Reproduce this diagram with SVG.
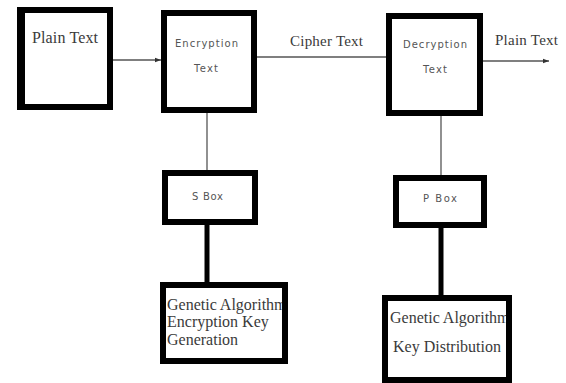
<svg xmlns="http://www.w3.org/2000/svg" width="566" height="383" viewBox="0 0 566 383">
  <style>
    .box { fill: none; stroke: #000; stroke-width: 6; }
    .thin { stroke: #555; stroke-width: 1.3; fill: none; }
    .thick { stroke: #000; stroke-width: 5; fill: none; }
    .serif { font-family: "Liberation Serif", "Times New Roman", serif; fill: #3a3a3a; }
    .small { font-family: "DejaVu Sans", Verdana, sans-serif; font-size: 10px; fill: #555; }
  </style>
  <defs>
    <marker id="arrow" viewBox="0 0 6 6" refX="6" refY="3" markerWidth="6" markerHeight="6" markerUnits="userSpaceOnUse" orient="auto">
      <path d="M0,0.8 L6,3 L0,5.2 Z" fill="#333"/>
    </marker>
  </defs>
  <rect width="566" height="383" fill="#fff"/>

  <!-- connectors -->
  <g id="connectors">
    <line class="thin" x1="113" y1="60" x2="161" y2="60" marker-end="url(#arrow)"/>
    <line class="thin" x1="257" y1="57" x2="386" y2="57"/>
    <line class="thin" x1="483" y1="61" x2="549" y2="61" marker-end="url(#arrow)"/>
    <line class="thin" x1="207" y1="113" x2="207" y2="170"/>
    <line class="thick" x1="207" y1="225" x2="207" y2="282"/>
    <line class="thin" x1="441" y1="116" x2="441" y2="175"/>
    <line class="thick" x1="441" y1="228" x2="441" y2="295"/>
    <text class="serif" x="290" y="46" font-size="15" textLength="73">Cipher Text</text>
    <text class="serif" x="495" y="45" font-size="15" textLength="63">Plain Text</text>
  </g>

  <!-- plain text input -->
  <g id="plain-text">
    <rect class="box" x="20" y="10" width="90" height="97"/>
    <rect x="17" y="7" width="8" height="103" fill="#000"/>
    <text class="serif" x="32" y="43" font-size="16" textLength="66">Plain Text</text>
  </g>

  <!-- encryption -->
  <g id="encryption">
    <rect class="box" x="164" y="13" width="90" height="97"/>
    <text class="small" x="175" y="47" textLength="63">Encryption</text>
    <text class="small" x="194" y="72" textLength="24">Text</text>
  </g>

  <!-- decryption -->
  <g id="decryption">
    <rect class="box" x="389" y="16" width="91" height="97"/>
    <text class="small" x="403" y="48" textLength="64">Decryption</text>
    <text class="small" x="423" y="73" textLength="24">Text</text>
  </g>

  <!-- S box -->
  <g id="s-box">
    <rect class="box" x="165" y="173" width="90" height="49"/>
    <text class="small" x="192" y="200" font-size="9" textLength="31">S Box</text>
  </g>

  <!-- P box -->
  <g id="p-box">
    <rect class="box" x="396" y="178" width="88" height="47"/>
    <text class="small" x="423" y="202" font-size="9" textLength="34">P Box</text>
  </g>

  <!-- key generation -->
  <g id="key-generation">
    <text class="serif" font-size="16">
      <tspan x="167" y="310">Genetic Algorithm</tspan>
      <tspan x="167" y="327">Encryption Key</tspan>
      <tspan x="167" y="345">Generation</tspan>
    </text>
    <rect class="box" x="163" y="285" width="122" height="76"/>
  </g>

  <!-- key distribution -->
  <g id="key-distribution">
    <text class="serif" font-size="16">
      <tspan x="390" y="323">Genetic Algorithm</tspan>
      <tspan x="393" y="352">Key Distribution</tspan>
    </text>
    <rect class="box" x="385" y="298" width="124" height="82"/>
  </g>
</svg>
